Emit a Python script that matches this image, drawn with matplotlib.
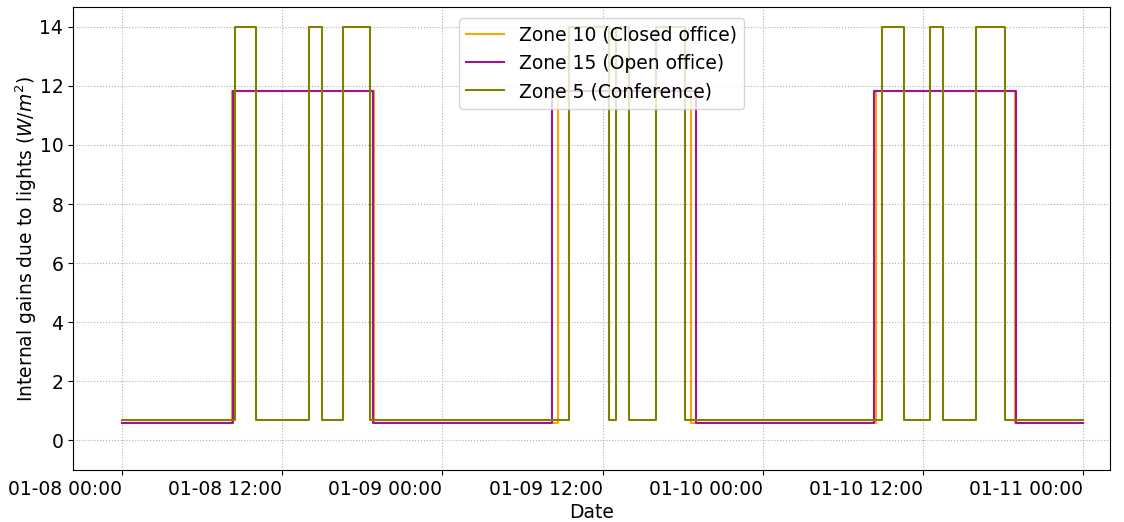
import matplotlib
matplotlib.use('Agg')
import matplotlib.pyplot as plt
import matplotlib.dates as mdates
import pandas as pd

start = pd.Timestamp('2021-01-08 00:00')

# change points (hours after start) and the lighting gain that holds from there on
zone10_hours = [0, 8.2, 18.87, 32.67, 42.6, 56.5, 66.87, 72]
zone10_gain = [0.6, 11.84, 0.6, 11.84, 0.6, 11.84, 0.6, 0.6]

zone15_hours = [0, 8.33, 18.77, 32.18, 42.97, 56.35, 66.97, 72]
zone15_gain = [0.6, 11.84, 0.6, 11.84, 0.6, 11.84, 0.6, 0.6]

zone5_hours = [0, 8.45, 10.0, 14.0, 15.0, 16.57, 18.6,
               33.5, 36.5, 37.0, 38.0, 40.0, 42.16,
               56.96, 58.6, 60.5, 61.5, 64.0, 66.16, 72]
zone5_gain = [0.7, 14, 0.7, 14, 0.7, 14, 0.7,
              14, 0.7, 14, 0.7, 14, 0.7,
              14, 0.7, 14, 0.7, 14, 0.7, 0.7]

def to_dates(hours):
    return start + pd.to_timedelta(hours, unit='h')

fig, ax = plt.subplots(figsize=(11.24, 5.22), dpi=100)
plt.subplots_adjust(left=0.065, right=0.9875, top=0.9866, bottom=0.0996)

ax.plot(to_dates(zone10_hours), zone10_gain, drawstyle='steps-post', color='orange', lw=1.5, label='Zone 10 (Closed office)')
ax.plot(to_dates(zone15_hours), zone15_gain, drawstyle='steps-post', color='#a0158f', lw=1.5, label='Zone 15 (Open office)')
ax.plot(to_dates(zone5_hours), zone5_gain, drawstyle='steps-post', color='olive', lw=1.5, label='Zone 5 (Conference)')

ax.set_xlim(to_dates([-3.67])[0], to_dates([74.0])[0])
ax.set_ylim(-1, 14.67)
ax.xaxis.set_major_locator(mdates.HourLocator(byhour=[0, 12]))
ax.xaxis.set_major_formatter(mdates.DateFormatter('%m-%d %H:%M'))
ax.tick_params(labelsize=13.5)
# date labels end at their tick
plt.setp(ax.get_xticklabels(), ha='right', rotation=0)
ax.grid(True, linestyle=':')
ax.set_xlabel('Date', fontsize=13.5, labelpad=3)
ax.set_ylabel('Internal gains due to lights ($W/m^2$)', fontsize=13.5, labelpad=0.5)
ax.legend(loc='upper center', bbox_to_anchor=(0.5097, 0.997), fontsize=13.5)

plt.savefig('out.png')
